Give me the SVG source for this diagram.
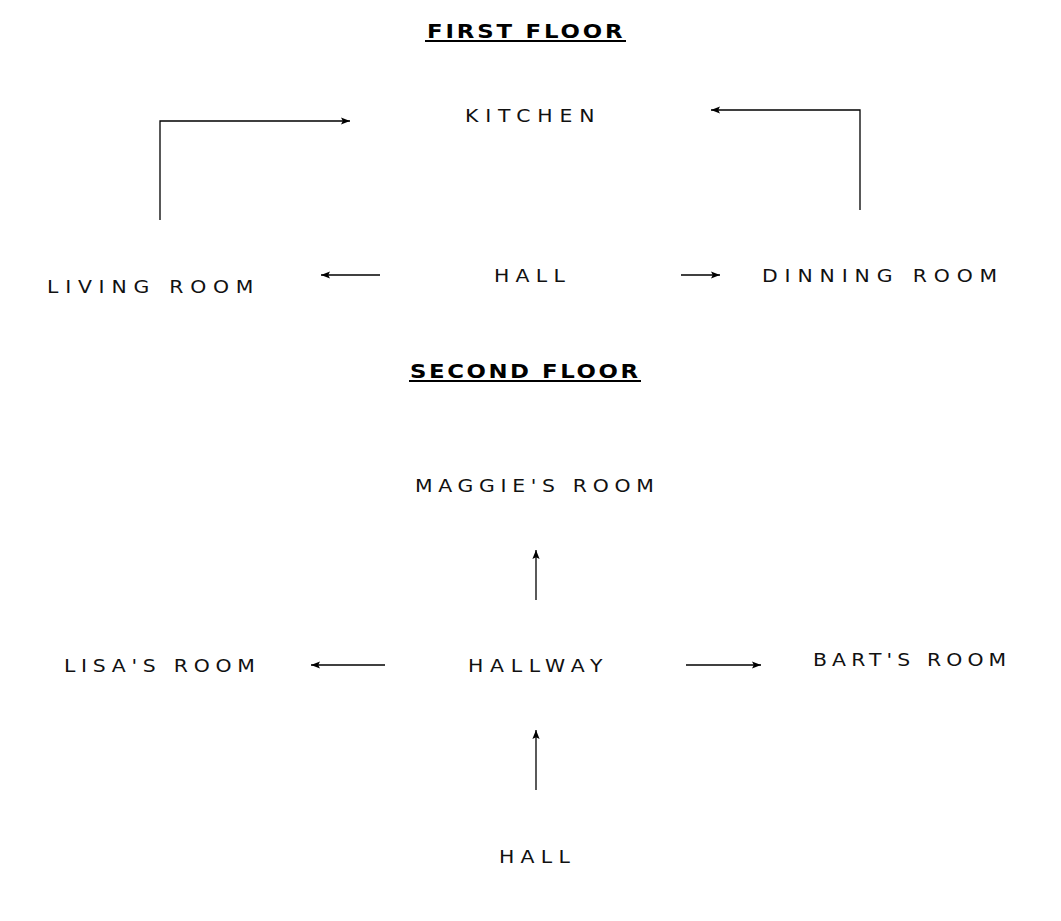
<svg xmlns="http://www.w3.org/2000/svg" width="1061" height="921" viewBox="0 0 1061 921">
<defs>
<marker id="ah" viewBox="0 0 10 10" refX="10" refY="5" markerWidth="9" markerHeight="9" markerUnits="userSpaceOnUse" orient="auto">
<path d="M0,1 L10,5 L0,9 L2,5 Z" fill="#000"/>
</marker>
</defs>
<style>
.lbl{font-family:"DejaVu Sans","Liberation Sans",sans-serif;font-size:17px;fill:#111;}
.ttl{font-family:"DejaVu Sans","Liberation Sans",sans-serif;font-size:19px;font-weight:bold;fill:#000;}
.ul{stroke:#000;stroke-width:2;}
.c{fill:none;stroke:#000;stroke-width:1.3;marker-end:url(#ah);}
</style>
<rect width="1061" height="921" fill="#fff"/>
<g id="title-first">
<text class="ttl" transform="translate(427,38) scale(1.2,1)" textLength="163" lengthAdjust="spacing">FIRST FLOOR</text>
<line class="ul" x1="425" y1="41" x2="626" y2="41"/>
</g>
<g id="kitchen"><text class="lbl" transform="translate(465,122) scale(1.2,1)" textLength="108" lengthAdjust="spacing">KITCHEN</text></g>
<g id="living-room"><text class="lbl" transform="translate(47,293) scale(1.2,1)" textLength="172" lengthAdjust="spacing">LIVING ROOM</text></g>
<g id="hall-1"><text class="lbl" transform="translate(494,282) scale(1.2,1)" textLength="59" lengthAdjust="spacing">HALL</text></g>
<g id="dinning-room"><text class="lbl" transform="translate(762,282) scale(1.2,1)" textLength="196" lengthAdjust="spacing">DINNING ROOM</text></g>
<g id="title-second">
<text class="ttl" transform="translate(410,378) scale(1.2,1)" textLength="190" lengthAdjust="spacing">SECOND FLOOR</text>
<line class="ul" x1="409" y1="381" x2="641" y2="381"/>
</g>
<g id="maggies-room"><text class="lbl" transform="translate(415,492) scale(1.2,1)" textLength="199" lengthAdjust="spacing">MAGGIE'S ROOM</text></g>
<g id="lisas-room"><text class="lbl" transform="translate(64,672) scale(1.2,1)" textLength="159" lengthAdjust="spacing">LISA'S ROOM</text></g>
<g id="hallway"><text class="lbl" transform="translate(468,672) scale(1.2,1)" textLength="112" lengthAdjust="spacing">HALLWAY</text></g>
<g id="barts-room"><text class="lbl" transform="translate(813,666) scale(1.2,1)" textLength="161" lengthAdjust="spacing">BART'S ROOM</text></g>
<g id="hall-2"><text class="lbl" transform="translate(499,863) scale(1.2,1)" textLength="59" lengthAdjust="spacing">HALL</text></g>
<g id="connectors">
<path class="c" d="M160,220 L160,121 L350,121"/>
<path class="c" d="M860,210 L860,110 L711,110"/>
<path class="c" d="M380,275 L321,275"/>
<path class="c" d="M681,275 L720,275"/>
<path class="c" d="M536,600 L536,550"/>
<path class="c" d="M385,665 L311,665"/>
<path class="c" d="M686,665 L761,665"/>
<path class="c" d="M536,790 L536,730"/>
</g>
</svg>
